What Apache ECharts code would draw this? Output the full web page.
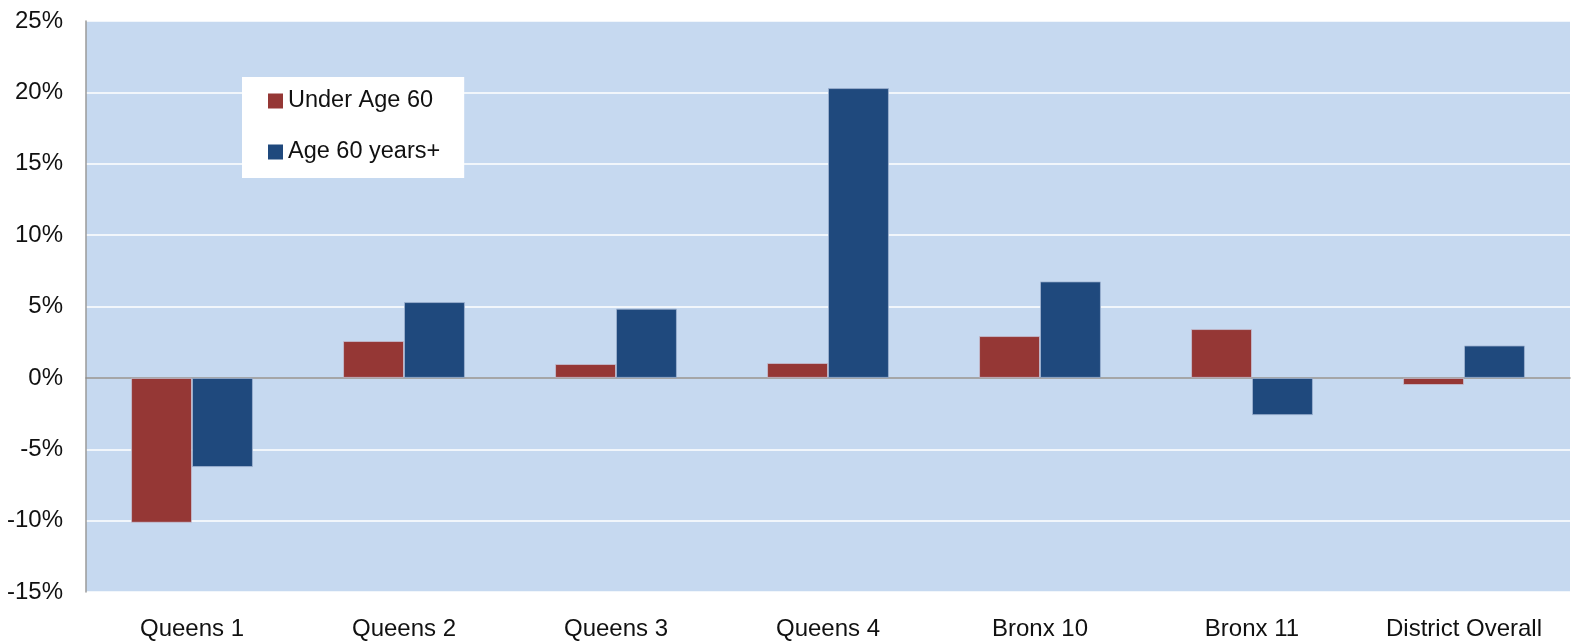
<!DOCTYPE html>
<html><head><meta charset="utf-8">
<script src="https://cdn.jsdelivr.net/npm/echarts@6/dist/echarts.min.js"></script>
<style>html,body{margin:0;padding:0;background:#fff}#c{width:1572px;height:641px}</style>
</head><body><div id="c"></div>
<script>
const categories = ["Queens 1","Queens 2","Queens 3","Queens 4","Bronx 10","Bronx 11","District Overall"];
const underAge60 = [-10.15, 2.58, 0.97, 1.04, 2.93, 3.42, -0.5];
const age60Plus = [-6.25, 5.31, 4.85, 20.3, 6.76, -2.61, 2.27];
const seriesNames = ["Under Age 60", "Age 60 years+"];
const yTicks = {min: -15, max: 25, interval: 5};

const chart = echarts.init(document.getElementById('c'));
const font = "Liberation Sans, Arial, sans-serif";
chart.setOption({
  animation: false,
  grid: {left: 86, right: 2, top: 21, bottom: 49, show: true, backgroundColor: '#C6D9F0', borderWidth: 0},
  legend: {
    orient: 'vertical', left: 242, top: 77,
    backgroundColor: '#fff', padding: [12, 24, 14, 26],
    itemGap: 27, itemWidth: 15, itemHeight: 15, icon: 'rect',
    itemStyle: {borderWidth: 0},
    textStyle: {fontFamily: font, fontSize: 23.5, lineHeight: 24, color: '#111', padding: [0, 0, 0, 0]},
    data: seriesNames
  },
  xAxis: {
    type: 'category', data: categories,
    axisLine: {onZero: true, lineStyle: {color: '#8c8c8c', width: 1.5}},
    axisTick: {show: false},
    axisLabel: {fontFamily: font, fontSize: 24, color: '#111', margin: 25}
  },
  yAxis: {
    type: 'value', min: yTicks.min, max: yTicks.max, interval: yTicks.interval,
    axisLine: {show: true, lineStyle: {color: '#9a9a9a', width: 1.5}},
    axisTick: {show: false},
    splitLine: {lineStyle: {color: '#ffffff', width: 1.5}},
    axisLabel: {fontFamily: font, fontSize: 24, color: '#111', margin: 23, formatter: v => v + '%'}
  },
  series: [
    {name: seriesNames[0], type: 'bar', data: underAge60, barGap: '0%', barCategoryGap: '42.5%',
     itemStyle: {color: '#953735', borderColor: 'rgba(200,200,220,0.7)', borderWidth: 1}},
    {name: seriesNames[1], type: 'bar', data: age60Plus,
     itemStyle: {color: '#1F497D', borderColor: 'rgba(160,180,210,0.8)', borderWidth: 1}}
  ]
});
</script></body></html>
